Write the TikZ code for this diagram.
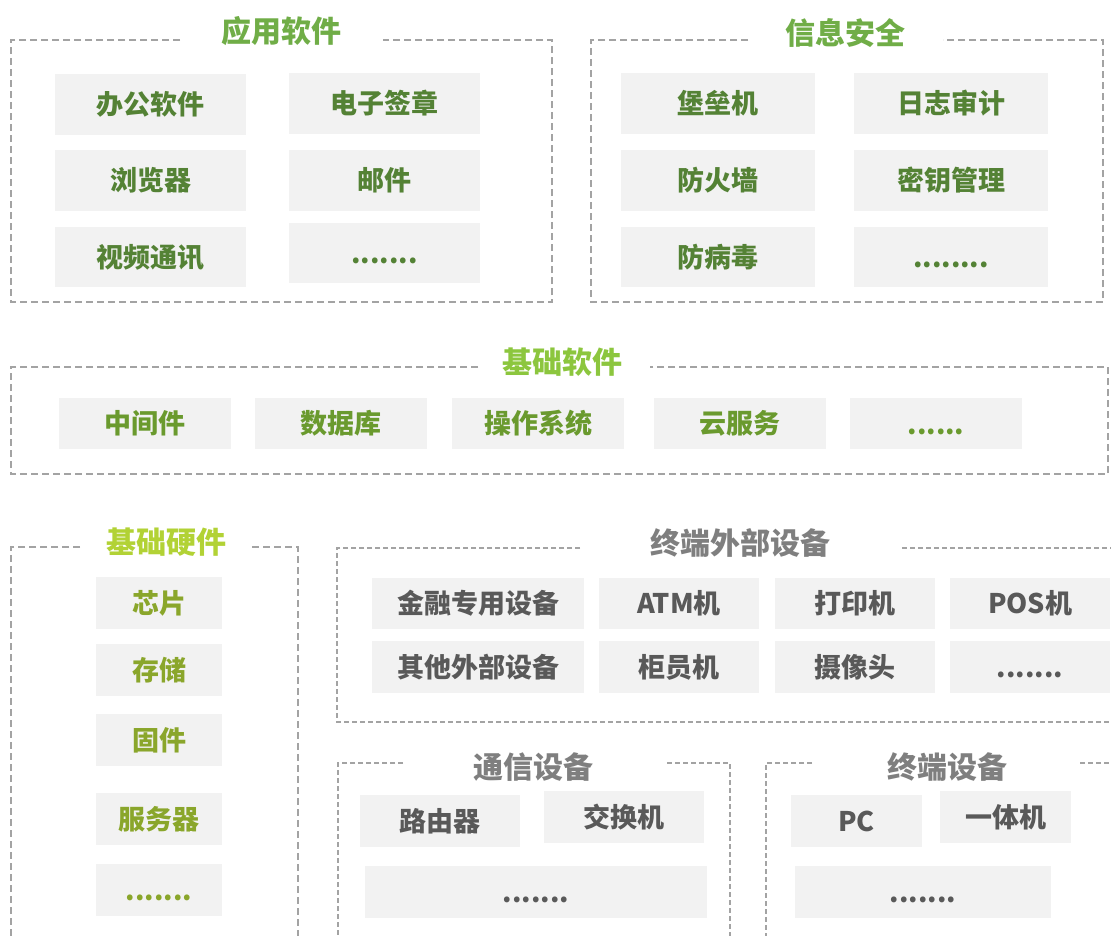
\documentclass[tikz,border=0pt]{standalone}
\usepackage{fontspec}
\setmainfont{Noto Sans CJK SC}
\definecolor{tA}{HTML}{70AD47}
\definecolor{iA}{HTML}{548235}
\definecolor{tB}{HTML}{8CC63E}
\definecolor{iB}{HTML}{6A9A2E}
\definecolor{tC}{HTML}{B2D235}
\definecolor{iC}{HTML}{8AA62B}
\definecolor{tD}{HTML}{7F7F7F}
\definecolor{iD}{HTML}{595959}
\definecolor{boxfill}{HTML}{F2F2F2}
\definecolor{dashc}{HTML}{A3A3A3}
\tikzset{
  panel/.style={draw=dashc, line width=2.2pt, dash pattern=on 7pt off 4pt},
  panelsm/.style={draw=dashc, line width=1.8pt, dash pattern=on 5pt off 3pt},
  ttl/.style={font=\fontsize{30}{30}\selectfont\bfseries, inner sep=0pt, text height=25.8pt, text depth=3pt},
  itm/.style={fill=boxfill, inner sep=0pt, font=\fontsize{27}{27}\selectfont\bfseries, text height=23.2pt, text depth=2.7pt},
  gA/.style={itm, text=iA},
  gB/.style={itm, text=iB},
  gC/.style={itm, text=iC},
  gD/.style={itm, text=iD},
}
\newcommand{\mydots}[1]{\raisebox{-0.02em}{#1}}
\begin{document}
\begin{tikzpicture}[x=1pt,y=-1pt]
\useasboundingbox (0,0) rectangle (1111,935);
\fill[white] (0,0) rectangle (1111,935);

% ===== 应用软件 =====
\draw[panel] (180,40) -- (11,40) -- (11,302) -- (552,302) -- (552,40) -- (383,40);
\node[ttl, text=tA] (tapp) at (281.5,31) {应用软件};
\node[gA, minimum width=191pt, minimum height=61pt] (a1) at (150.5,104.5) {办公软件};
\node[gA, minimum width=191pt, minimum height=61pt] (a2) at (150.5,180.5) {浏览器};
\node[gA, minimum width=191pt, minimum height=60pt] (a3) at (150.5,257) {视频通讯};
\node[gA, minimum width=191pt, minimum height=61pt] (a4) at (384.5,103.5) {电子签章};
\node[gA, minimum width=191pt, minimum height=61pt] (a5) at (384.5,180.5) {邮件};
\node[gA, minimum width=191pt, minimum height=60pt] (a6) at (384.5,253) {\mydots{.......}};

% ===== 信息安全 =====
\draw[panel] (748,40) -- (591,40) -- (591,302) -- (1103,302) -- (1103,40) -- (943,40);
\node[ttl, text=tA] (tsec) at (845.5,33) {信息安全};
\node[gA, minimum width=194pt, minimum height=61pt] (s1) at (718,103.5) {堡垒机};
\node[gA, minimum width=194pt, minimum height=61pt] (s2) at (718,180.5) {防火墙};
\node[gA, minimum width=194pt, minimum height=60pt] (s3) at (718,257) {防病毒};
\node[gA, minimum width=194pt, minimum height=61pt] (s4) at (951,103.5) {日志审计};
\node[gA, minimum width=194pt, minimum height=61pt] (s5) at (951,180.5) {密钥管理};
\node[gA, minimum width=194pt, minimum height=60pt] (s6) at (951,257) {\mydots{........}};

% ===== 基础软件 =====
\draw[panel] (478,367) -- (11,367) -- (11,474) -- (1108,474) -- (1108,367) -- (650,367);
\node[ttl, text=tB] (tbs) at (562,362) {基础软件};
\node[gB, minimum width=172pt, minimum height=51pt] (b1) at (145,423.5) {中间件};
\node[gB, minimum width=172pt, minimum height=51pt] (b2) at (341,423.5) {数据库};
\node[gB, minimum width=172pt, minimum height=51pt] (b3) at (538,423.5) {操作系统};
\node[gB, minimum width=172pt, minimum height=51pt] (b4) at (740,423.5) {云服务};
\node[gB, minimum width=172pt, minimum height=51pt] (b5) at (936,423.5) {\mydots{......}};

% ===== 基础硬件 =====
\draw[panel] (80,547) -- (11,547) -- (11,945);
\draw[panel] (252,547) -- (298,547) -- (298,945);
\node[ttl, text=tC] (thw) at (166,542) {基础硬件};
\node[gC, minimum width=126pt, minimum height=52pt] (h1) at (159,603) {芯片};
\node[gC, minimum width=126pt, minimum height=52pt] (h2) at (159,670) {存储};
\node[gC, minimum width=126pt, minimum height=52pt] (h3) at (159,740) {固件};
\node[gC, minimum width=126pt, minimum height=52pt] (h4) at (159,819) {服务器};
\node[gC, minimum width=126pt, minimum height=52pt] (h5) at (159,890) {\mydots{.......}};

% ===== 终端外部设备 =====
\draw[panelsm] (580,548) -- (337,548) -- (337,722) -- (1120,722);
\draw[panelsm] (902,548) -- (1120,548);
\node[ttl, text=tD] (tper) at (740,543) {终端外部设备};
\node[gD, minimum width=212pt, minimum height=51pt] (p1) at (478,603.5) {金融专用设备};
\node[gD, minimum width=160pt, minimum height=51pt] (p2) at (679,603.5) {ATM机};
\node[gD, minimum width=160pt, minimum height=51pt] (p3) at (855,603.5) {打印机};
\node[gD, minimum width=160pt, minimum height=51pt] (p4) at (1030,603.5) {POS机};
\node[gD, minimum width=212pt, minimum height=52pt] (p5) at (478,667) {其他外部设备};
\node[gD, minimum width=160pt, minimum height=52pt] (p6) at (679,667) {柜员机};
\node[gD, minimum width=160pt, minimum height=52pt] (p7) at (855,667) {摄像头};
\node[gD, minimum width=160pt, minimum height=52pt] (p8) at (1030,667) {\mydots{.......}};

% ===== 通信设备 =====
\draw[panelsm] (403,763) -- (338,763) -- (338,945);
\draw[panelsm] (667,763) -- (730,763) -- (730,945);
\node[ttl, text=tD] (tcom) at (533,767) {通信设备};
\node[gD, minimum width=160pt, minimum height=52pt] (c1) at (440,821) {路由器};
\node[gD, minimum width=160pt, minimum height=52pt] (c2) at (624,817) {交换机};
\node[gD, minimum width=342pt, minimum height=52pt] (c3) at (536,892) {\mydots{.......}};

% ===== 终端设备 =====
\draw[panelsm] (812,763) -- (766,763) -- (766,945);
\draw[panelsm] (1080,763) -- (1120,763);
\node[ttl, text=tD] (tter) at (947,767) {终端设备};
\node[gD, minimum width=131pt, minimum height=52pt] (t1) at (856.5,821) {PC};
\node[gD, minimum width=131pt, minimum height=52pt] (t2) at (1005.5,817) {一体机};
\node[gD, minimum width=256pt, minimum height=52pt] (t3) at (923,892) {\mydots{.......}};
\end{tikzpicture}
\end{document}
